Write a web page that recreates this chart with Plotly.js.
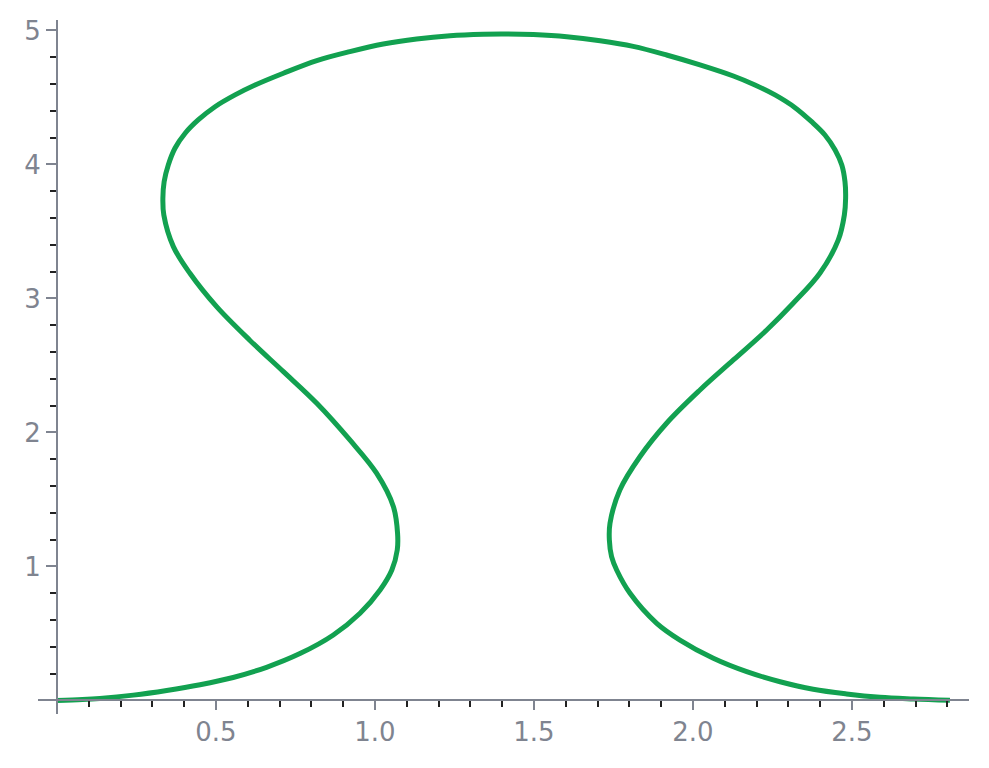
<!DOCTYPE html>
<html>
<head>
<meta charset="utf-8">
<script src="https://cdn.plot.ly/plotly-3.0.1.min.js"></script>
<style>html,body{margin:0;padding:0;background:#fff;}#chart{width:989px;height:768px;}</style>
</head>
<body>
<div id="chart"></div>
<script>
// Curve points (x, y in data units), traced in order
const curveX = [
  0.000, 0.080, 0.135, 0.240, 0.345, 0.450, 0.554, 0.659, 0.764, 0.869, 0.953, 1.016, 1.053, 1.070,
  1.071, 1.058, 1.005, 0.921, 0.817, 0.712, 0.607, 0.502, 0.418, 0.366, 0.336,
  0.333, 0.337, 0.350, 0.371, 0.403, 0.444, 0.497, 0.560, 0.623, 0.712, 0.817, 0.921, 1.026, 1.131, 1.236, 1.341, 1.404,
  1.498, 1.603, 1.708, 1.812, 1.917, 2.022, 2.127, 2.195, 2.258, 2.321, 2.373, 2.415, 2.447, 2.468, 2.478, 2.480, 2.476,
  2.457, 2.399, 2.315, 2.232, 2.127, 2.022, 1.917, 1.833, 1.770, 1.739, 1.737, 1.744,
  1.760, 1.802, 1.886, 1.959, 2.064, 2.169, 2.274, 2.378, 2.483, 2.588, 2.693, 2.808
];
const curveY = [
  0.000, 0.007, 0.015, 0.040, 0.075, 0.118, 0.172, 0.248, 0.350, 0.489, 0.651, 0.825, 0.974, 1.123,
  1.248, 1.446, 1.696, 1.944, 2.218, 2.454, 2.687, 2.939, 3.188, 3.387, 3.623,
  3.748, 3.872, 3.996, 4.121, 4.233, 4.332, 4.431, 4.519, 4.593, 4.681, 4.775, 4.842, 4.899, 4.937, 4.961, 4.972, 4.974,
  4.969, 4.953, 4.923, 4.881, 4.817, 4.743, 4.660, 4.593, 4.519, 4.424, 4.319, 4.220, 4.108, 3.996, 3.872, 3.748, 3.623,
  3.437, 3.188, 2.964, 2.765, 2.541, 2.317, 2.069, 1.819, 1.571, 1.322, 1.198, 1.073,
  0.974, 0.800, 0.576, 0.451, 0.315, 0.215, 0.140, 0.084, 0.049, 0.024, 0.011, 0.001
];

// Tick labels
const xTickVals = [0.5, 1.0, 1.5, 2.0, 2.5];
const xTickText = ['0.5', '1.0', '1.5', '2.0', '2.5'];
const yTickVals = [1, 2, 3, 4, 5];
const yTickText = ['1', '2', '3', '4', '5'];
const xMinorVals = [0.1,0.2,0.3,0.4,0.6,0.7,0.8,0.9,1.1,1.2,1.3,1.4,1.6,1.7,1.8,1.9,2.1,2.2,2.3,2.4,2.6,2.7,2.8];
const yMinorVals = [0.2,0.4,0.6,0.8,1.2,1.4,1.6,1.8,2.2,2.4,2.6,2.8,3.2,3.4,3.6,3.8,4.2,4.4,4.6,4.8];

const gray = '#7f8490';
const tickFont = {family: 'DejaVu Sans, sans-serif', size: 26, color: gray};

const trace = {
  x: curveX, y: curveY,
  type: 'scatter', mode: 'lines',
  line: {color: '#12a150', width: 5, shape: 'spline', smoothing: 1},
  hoverinfo: 'skip'
};

const layout = {
  width: 989, height: 768,
  margin: {l: 38, r: 20, t: 20, b: 54},
  paper_bgcolor: '#ffffff', plot_bgcolor: '#ffffff',
  showlegend: false,
  xaxis: {
    range: [-0.0597, 2.868],
    anchor: 'free', position: 0.0206,
    showline: true, linecolor: gray, linewidth: 2,
    showgrid: false, zeroline: false,
    ticks: 'outside', ticklen: 9, tickwidth: 2, tickcolor: gray,
    tickmode: 'array', tickvals: xTickVals, ticktext: xTickText,
    tickfont: tickFont,
    minor: {tickmode: 'array', tickvals: xMinorVals, ticks: 'outside', ticklen: 6, tickwidth: 2, tickcolor: '#222222', showgrid: false},
    fixedrange: true
  },
  yaxis: {
    range: [-0.1007, 5.078],
    anchor: 'free', position: 0.0204,
    showline: true, linecolor: gray, linewidth: 2,
    showgrid: false, zeroline: false,
    ticks: 'outside', ticklen: 10, tickwidth: 2, tickcolor: gray,
    tickmode: 'array', tickvals: yTickVals, ticktext: yTickText,
    tickfont: tickFont,
    minor: {tickmode: 'array', tickvals: yMinorVals, ticks: 'outside', ticklen: 6, tickwidth: 2, tickcolor: '#222222', showgrid: false},
    fixedrange: true
  }
};

Plotly.newPlot('chart', [trace], layout, {displayModeBar: false, staticPlot: true});
</script>
</body>
</html>
